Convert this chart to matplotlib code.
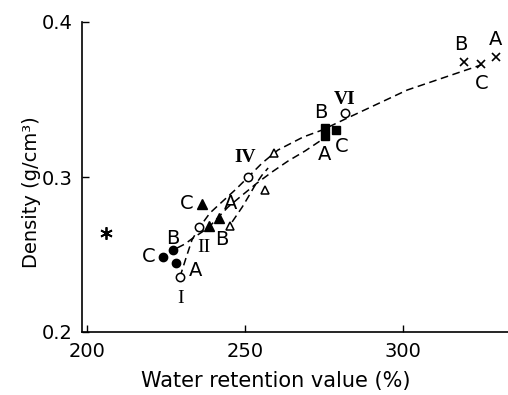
import matplotlib.pyplot as plt

# markers (water retention value %, density g/cm3)
star_x, star_y = [206.0], [0.264]
fcirc_x = [224.1, 227.3, 228.1]          # C, B, A
fcirc_y = [0.2485, 0.2529, 0.2445]
ocirc_x = [229.4, 235.4, 250.9, 281.6]   # I, II, IV, VI
ocirc_y = [0.2355, 0.2675, 0.3002, 0.3410]
ftri_x = [236.3, 241.8, 238.7]           # C, A, B
ftri_y = [0.2824, 0.2734, 0.2684]
otri_x = [245.3, 256.2, 259.2]
otri_y = [0.2684, 0.2913, 0.3153]
sq_x = [275.3, 275.3, 278.8]             # B, A, C
sq_y = [0.3314, 0.3265, 0.3303]
cross_x = [319.3, 324.8, 329.3]          # B, C, A
cross_y = [0.3740, 0.3726, 0.3774]

# dashed curves
c1_x = [229.4, 231.3, 233.2, 235.4, 238.9, 243.0, 247.2, 251.0, 255.4, 260.4, 268.4, 274.4, 281.7, 301.3, 324.7]
c1_y = [0.2355, 0.2477, 0.2594, 0.2671, 0.2768, 0.2845, 0.2923, 0.3000, 0.3090, 0.3174, 0.3258, 0.3303, 0.3374, 0.3561, 0.3723]
c2_x = [228.5, 231.0, 233.5, 238.3, 244.6, 248.4, 253.8, 258.5, 263.6, 269.0, 275.0]
c2_y = [0.2542, 0.2568, 0.2606, 0.2671, 0.2806, 0.2871, 0.2961, 0.3032, 0.3103, 0.3168, 0.3250]
c3_x = [245.9, 249.1, 251.0, 253.2, 255.4, 257.3]
c3_y = [0.2710, 0.2806, 0.2871, 0.2948, 0.3013, 0.3058]

# point labels
abc_text = ['C', 'B', 'A', 'C', 'A', 'B', 'B', 'A', 'C', 'B', 'A', 'C']
abc_x = [219.4, 227.0, 234.2, 231.6, 245.3, 242.7, 274.1, 275.0, 280.7, 318.4, 329.4, 325.0]
abc_y = [0.2490, 0.2600, 0.2394, 0.2826, 0.2832, 0.2594, 0.3419, 0.3148, 0.3194, 0.3852, 0.3890, 0.3606]
rom_text = ['I', 'II', 'IV', 'VI']
rom_weight = ['normal', 'normal', 'bold', 'bold']
rom_x = [229.7, 237.1, 250.0, 281.6]
rom_y = [0.2219, 0.2548, 0.3129, 0.3497]

fig = plt.figure(figsize=(5.08, 3.95), dpi=100)
ax = fig.add_axes([82 / 508, 63 / 395, 426 / 508, 310 / 395])

ls = (0, (5, 3))
ax.plot(c1_x, c1_y, color='black', lw=1.1, linestyle=ls)
ax.plot(c2_x, c2_y, color='black', lw=1.1, linestyle=ls)
ax.plot(c3_x, c3_y, color='black', lw=1.1, linestyle=ls)

ax.plot(star_x, star_y, linestyle='none', marker=(6, 2, 0), ms=9, mew=1.3, color='black')
ax.plot(fcirc_x, fcirc_y, linestyle='none', marker='o', ms=6, color='black')
ax.plot(ocirc_x, ocirc_y, linestyle='none', marker='o', ms=6, mfc='white', mec='black', mew=1.1)
ax.plot(ftri_x, ftri_y, linestyle='none', marker='^', ms=6.5, color='black')
ax.plot(otri_x, otri_y, linestyle='none', marker='^', ms=6, mfc='white', mec='black', mew=1.1)
ax.plot(sq_x, sq_y, linestyle='none', marker='s', ms=5.5, color='black')
ax.plot(cross_x, cross_y, linestyle='none', marker='x', ms=6, mew=1.2, color='black')

for t, x, y in zip(abc_text, abc_x, abc_y):
    ax.text(x, y, t, fontsize=14, ha='center', va='center')
for t, w, x, y in zip(rom_text, rom_weight, rom_x, rom_y):
    ax.text(x, y, t, fontsize=14, ha='center', va='center', family='Liberation Serif', fontweight=w)

ax.set_xlim(198.4, 333.2)
ax.set_ylim(0.2, 0.4)
ax.set_xticks([200, 250, 300])
ax.set_yticks([0.2, 0.3, 0.4])
ax.set_yticklabels(['0.2', '0.3', '0.4'])
ax.tick_params(direction='in', length=5, width=1, labelsize=14, pad=7)
ax.spines['top'].set_visible(False)
ax.spines['right'].set_visible(False)
ax.spines['left'].set_linewidth(1.2)
ax.spines['bottom'].set_linewidth(1.2)
ax.set_xlabel('Water retention value (%)', fontsize=15)
ax.set_ylabel('Density (g/cm³)', fontsize=14)
ax.xaxis.set_label_coords(0.455, -0.125)
ax.yaxis.set_label_coords(-0.097, 0.45)

fig.savefig('out.png', dpi=100)
